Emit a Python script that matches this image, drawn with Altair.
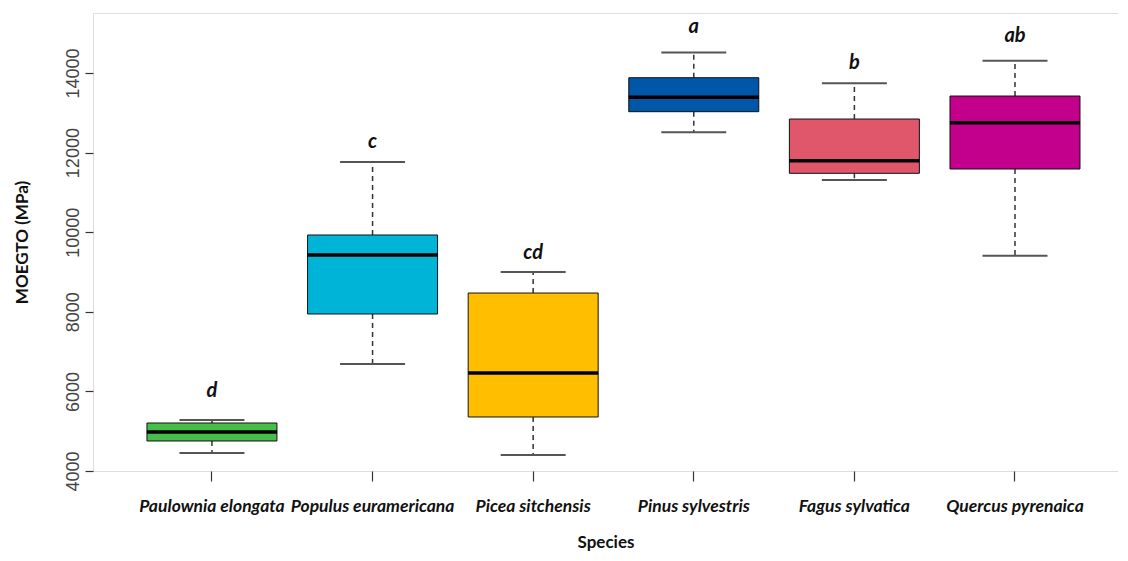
import altair as alt
import pandas as pd

species = ["Paulownia elongata", "Populus euramericana", "Picea sitchensis",
           "Pinus sylvestris", "Fagus sylvatica", "Quercus pyrenaica"]
whisker_low = [4452, 6688, 4402, 12510, 11312, 9410]
q1 = [4754, 7945, 5357, 13028, 11480, 11588]
median = [4980, 9427, 6462, 13389, 11796, 12751]
q3 = [5206, 9930, 8472, 13882, 12844, 13422]
whisker_high = [5281, 11764, 9000, 14513, 13741, 14309]
letters = ["d", "c", "cd", "a", "b", "ab"]
letter_y = [5859, 12108, 9319, 15005, 14101, 14771]
colors = ["#47BE4A", "#00B4D8", "#FFBE00", "#0057A8", "#E0566B", "#C2008B"]
y_ticks = [4000, 6000, 8000, 10000, 12000, 14000]

df = pd.DataFrame({
    "species": species,
    "wlo": whisker_low,
    "q1": q1,
    "med": median,
    "q3": q3,
    "whi": whisker_high,
    "letter": letters,
    "ly": letter_y,
})

YT = "MOEGTO (MPa)"
yscale = alt.Scale(domain=[4000, 15508], nice=False, zero=False)

x = alt.X(
    "species:N", sort=species,
    scale=alt.Scale(paddingInner=0, paddingOuter=0.191, align=0.63),
    axis=alt.Axis(
        title="Species", labelAngle=0, labelFont="Lato", labelFontStyle="italic",
        labelFontWeight="bold", labelFontSize=17.5, labelColor="#111",
        tickSize=10, tickColor="#333", tickWidth=1.2, labelPadding=16, domain=False,
        titleFont="Lato", titleFontWeight="bold", titleFontSize=17, titleColor="#111",
        titlePadding=20, grid=False,
    ),
)

def Y(field):
    return alt.Y(
        f"{field}:Q", scale=yscale, title=YT,
        axis=alt.Axis(
            values=y_ticks, format="d", labelAngle=270, labelAlign="center",
            labelBaseline="bottom", labelFont="Liberation Sans", labelFontSize=18,
            labelColor="#444", labelPadding=3, tickSize=8, tickColor="#333",
            tickWidth=1.2, domain=False, grid=False, titleFont="Lato",
            titleFontWeight="bold", titleFontSize=17, titleColor="#111",
            titlePadding=33,
        ),
    )

base = alt.Chart(df)

whisk_hi = base.mark_rule(strokeDash=[5, 4], color="#333", strokeWidth=1.5).encode(
    x=x, y=Y("q3"), y2="whi:Q")
whisk_lo = base.mark_rule(strokeDash=[5, 4], color="#333", strokeWidth=1.5).encode(
    x=x, y=Y("q1"), y2="wlo:Q")
cap_hi = base.mark_tick(size=65, thickness=2, color="#555", opacity=1).encode(
    x=x, y=Y("whi"))
cap_lo = base.mark_tick(size=65, thickness=2, color="#555", opacity=1).encode(
    x=x, y=Y("wlo"))
boxes = base.mark_bar(size=130, stroke="#111", strokeWidth=1, opacity=1).encode(
    x=x, y=Y("q1"), y2="q3:Q",
    color=alt.Color("species:N", scale=alt.Scale(domain=species, range=colors), legend=None),
)
meds = base.mark_tick(size=130, thickness=3.5, color="#000", opacity=1).encode(
    x=x, y=Y("med"))
labels = base.mark_text(font="Lato", fontStyle="italic", fontWeight="bold", fontSize=20,
                        baseline="alphabetic", color="#111").encode(
    x=x, y=Y("ly"), text="letter:N")

chart = alt.layer(whisk_hi, whisk_lo, cap_hi, cap_lo, boxes, meds, labels).properties(
    width=1025, height=458,
    autosize=alt.AutoSizeParams(type="none"),
    padding={"left": 85, "top": 5, "right": 0, "bottom": 82},
).configure_view(stroke="#111", strokeWidth=2).configure(background="white")

chart.save("out.html", embed_options={"renderer": "svg", "actions": False})
